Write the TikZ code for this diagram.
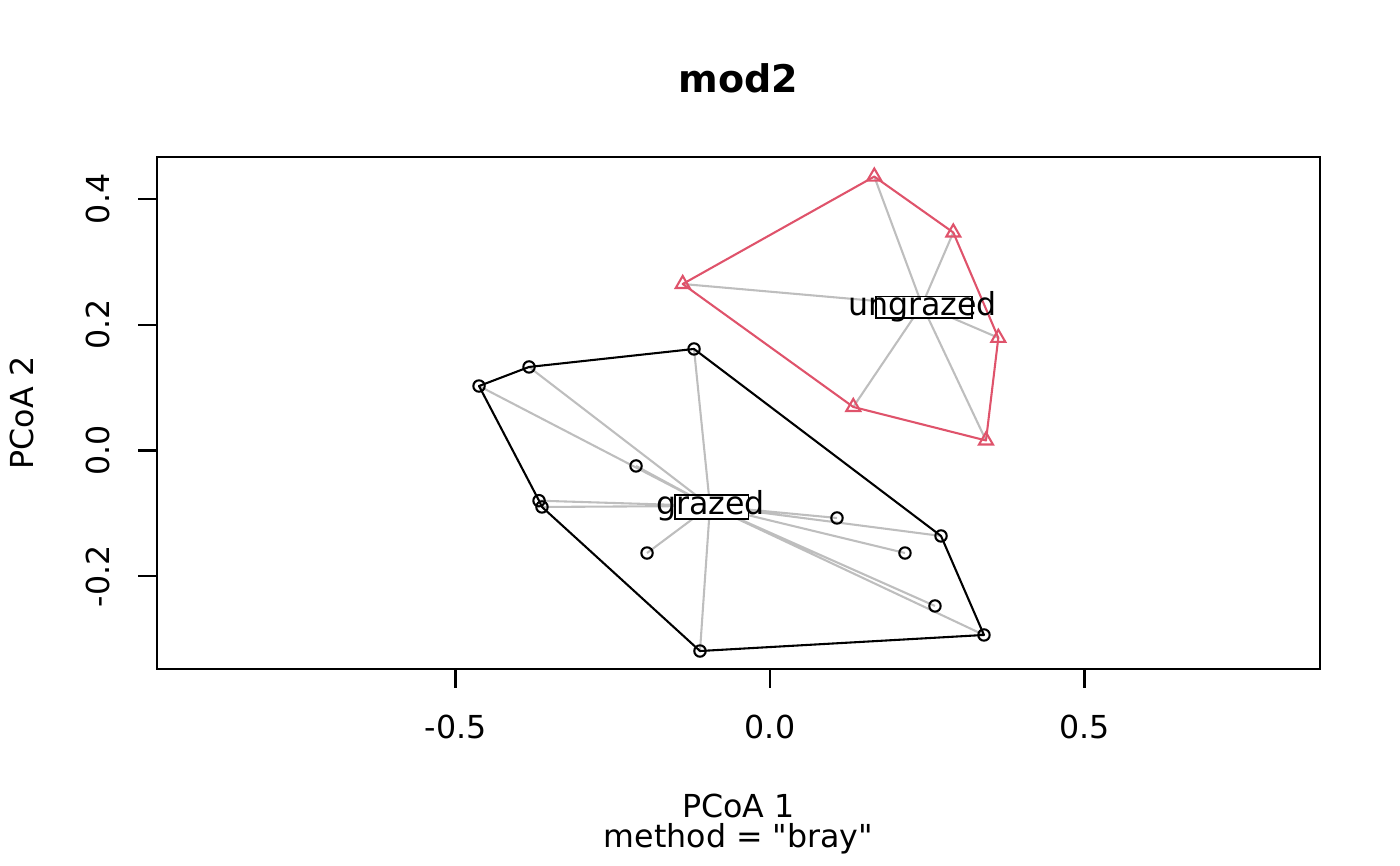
\documentclass[tikz,border=0pt]{standalone}
\usepackage{fontspec}
\setmainfont{DejaVu Sans}
\usetikzlibrary{shapes.geometric}

\definecolor{ugred}{HTML}{DF536B}
\definecolor{spokegray}{HTML}{BEBEBE}

\pgfdeclarelayer{background}
\pgfsetlayers{background,main}

\newcommand{\straightquote}{\XeTeXglyph\XeTeXcharglyph"22\relax}

\tikzset{
  grazedpt/.style={circle, draw=black, line width=0.75pt, inner sep=0pt, minimum size=4.1pt},
  ungrazedpt/.style={regular polygon, regular polygon sides=3, draw=ugred, line width=0.75pt, inner sep=0pt, minimum size=5.8pt},
  spoke/.style={spokegray, line width=0.75pt},
  hullg/.style={black, line width=0.75pt, line join=round},
  hullu/.style={ugred, line width=0.75pt, line join=round},
  labbox/.style={draw, fill=white, line width=0.55pt, inner sep=0pt},
  lab/.style={font=\fontsize{11.4}{13.7}\selectfont, inner sep=0pt, anchor=base}
}

\begin{document}
\begin{tikzpicture}[x=226.44pt, y=226.44pt]
\useasboundingbox (-1.2242,-0.6606) rectangle (1.0016,0.7162);
% frame and ticks
\draw[line width=0.75pt] (-0.9746,-0.3474) rectangle (0.8744,0.4666);
\draw[line width=0.75pt] (-0.5,-0.3474) -- (-0.5,-0.3776);
\draw[line width=0.75pt] (0,-0.3474) -- (0,-0.3776);
\draw[line width=0.75pt] (0.5,-0.3474) -- (0.5,-0.3776);
\draw[line width=0.75pt] (-0.9746,-0.2) -- (-1.0048,-0.2);
\draw[line width=0.75pt] (-0.9746,0) -- (-1.0048,0);
\draw[line width=0.75pt] (-0.9746,0.2) -- (-1.0048,0.2);
\draw[line width=0.75pt] (-0.9746,0.4) -- (-1.0048,0.4);
\node[lab] (xt1) at (-0.5,-0.4579) {-0.5};
\node[lab] (xt2) at (0,-0.4579) {0.0};
\node[lab] (xt3) at (0.5,-0.4579) {0.5};
\node[lab, rotate=90] (yt1) at (-1.0493,-0.2) {-0.2};
\node[lab, rotate=90] (yt2) at (-1.0493,0) {0.0};
\node[lab, rotate=90] (yt3) at (-1.0493,0.2) {0.2};
\node[lab, rotate=90] (yt4) at (-1.0493,0.4) {0.4};
\node[lab, font=\fontsize{13.7}{16}\selectfont\bfseries] (title) at (-0.0501,0.5684) {mod2};
\node[lab] (xlab) at (-0.0501,-0.5827) {PCoA 1};
\node[lab] (sublab) at (-0.0501,-0.6304) {method = \straightquote bray\straightquote};
\node[lab, rotate=90] (ylab) at (-1.1717,0.0596) {PCoA 2};
% grazed sites
\node[grazedpt] (g1) at (-0.4626,0.1025) {};
\node[grazedpt] (g2) at (-0.3831,0.1328) {};
\node[grazedpt] (g3) at (-0.1208,0.1614) {};
\node[grazedpt] (g4) at (-0.2130,-0.0246) {};
\node[grazedpt] (g5) at (-0.3672,-0.0798) {};
\node[grazedpt] (g6) at (-0.3625,-0.0898) {};
\node[grazedpt] (g7) at (-0.1955,-0.1630) {};
\node[grazedpt] (g8) at (-0.1113,-0.3188) {};
\node[grazedpt] (g9) at (0.1065,-0.1073) {};
\node[grazedpt] (g10) at (0.2719,-0.1359) {};
\node[grazedpt] (g11) at (0.2146,-0.1630) {};
\node[grazedpt] (g12) at (0.2623,-0.2472) {};
\node[grazedpt] (g13) at (0.3402,-0.2933) {};
% ungrazed sites
\node[ungrazedpt] (u1) at (0.1658,0.4355) {};
\node[ungrazedpt] (u2) at (0.2914,0.3466) {};
\node[ungrazedpt] (u3) at (-0.1388,0.2647) {};
\node[ungrazedpt] (u4) at (0.3630,0.1792) {};
\node[ungrazedpt] (u5) at (0.1324,0.0692) {};
\node[ungrazedpt] (u6) at (0.3434,0.0159) {};
\coordinate (cg) at (-0.0954,-0.0882);
\coordinate (cu) at (0.2417,0.2313);
\begin{pgfonlayer}{background}
\draw[spoke] (cg) -- (g1.center) (cg) -- (g2.center) (cg) -- (g3.center) (cg) -- (g4.center)
  (cg) -- (g5.center) (cg) -- (g6.center) (cg) -- (g7.center) (cg) -- (g8.center)
  (cg) -- (g9.center) (cg) -- (g10.center) (cg) -- (g11.center) (cg) -- (g12.center) (cg) -- (g13.center);
\draw[spoke] (cu) -- (u1.center) (cu) -- (u2.center) (cu) -- (u3.center)
  (cu) -- (u4.center) (cu) -- (u5.center) (cu) -- (u6.center);
\draw[hullg] (g1.center) -- (g2.center) -- (g3.center) -- (g10.center) -- (g13.center) -- (g8.center) -- (g6.center) -- (g5.center) -- cycle;
\draw[hullu] (u1.center) -- (u2.center) -- (u4.center) -- (u6.center) -- (u5.center) -- (u3.center) -- cycle;
\end{pgfonlayer}
% centroid labels
\node[labbox, minimum width=26.4pt, minimum height=8.6pt] (boxg) at (-0.0927,-0.0901) {};
\node[lab] (labg) at (-0.0946,-0.1014) {grazed};
\node[labbox, minimum width=34.45pt, minimum height=7.9pt] (boxu) at (0.2447,0.2277) {};
\node[lab] (labu) at (0.2424,0.2154) {ungrazed};
\end{tikzpicture}
\end{document}
